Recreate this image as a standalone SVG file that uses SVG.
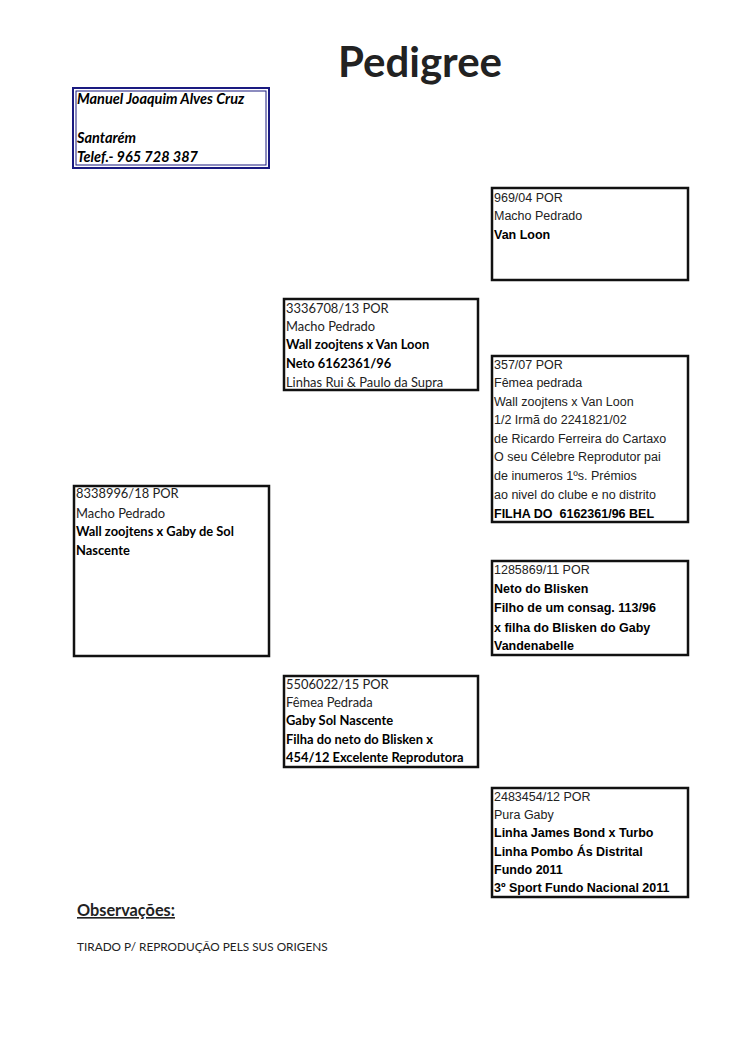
<svg xmlns="http://www.w3.org/2000/svg" width="750" height="1061" viewBox="0 0 750 1061">
<style>
.box{fill:#fff;stroke:#111;stroke-width:2.5}
.c{font-family:Lato,"Open Sans",sans-serif;font-size:12.9px;fill:#222}
.a{font-family:"Liberation Sans",Arial,sans-serif;font-size:12.5px;fill:#222}
.b{font-weight:bold;fill:#000}
.own{font-family:Lato,"Open Sans",sans-serif;font-size:14.5px;font-weight:bold;font-style:italic;fill:#000}
</style>
<rect width="750" height="1061" fill="#fff"/>
<text x="420" y="77" text-anchor="middle" font-family="Lato,'Open Sans',sans-serif" font-size="42" font-weight="bold" fill="#222">Pedigree</text>
<g id="owner">
<rect x="73" y="88" width="196" height="80" fill="#fff" stroke="#1a1a80" stroke-width="2"/>
<rect x="76" y="91" width="190" height="74" fill="none" stroke="#1a1a80" stroke-width="1"/>
<text class="own" x="77" y="104">Manuel Joaquim Alves Cruz</text>
<text class="own" x="77" y="143">Santarém</text>
<text class="own" x="77" y="162">Telef.- 965 728 387</text>
</g>
<g id="n969">
<rect class="box" x="492" y="188" width="196" height="92"/>
<text class="a" x="494" y="202">969/04 POR</text>
<text class="a" x="494" y="220">Macho Pedrado</text>
<text class="a b" x="494" y="239">Van Loon</text>
</g>
<g id="n3336708">
<rect class="box" x="284" y="299" width="194" height="91"/>
<text class="c" x="286" y="313">3336708/13 POR</text>
<text class="c" x="286" y="331">Macho Pedrado</text>
<text class="c b" x="286" y="349">Wall zoojtens x Van Loon</text>
<text class="c b" x="286" y="368">Neto 6162361/96</text>
<text class="c" x="286" y="387">Linhas Rui &amp; Paulo da Supra</text>
</g>
<g id="n357">
<rect class="box" x="492" y="356" width="196" height="166"/>
<text class="a" x="494" y="369">357/07 POR</text>
<text class="a" x="494" y="387">Fêmea pedrada</text>
<text class="a" x="494" y="406">Wall zoojtens x Van Loon</text>
<text class="a" x="494" y="424">1/2 Irmã do 2241821/02</text>
<text class="a" x="494" y="443">de Ricardo Ferreira do Cartaxo</text>
<text class="a" x="494" y="461">O seu Célebre Reprodutor pai</text>
<text class="a" x="494" y="480">de inumeros 1ºs. Prémios</text>
<text class="a" x="494" y="499">ao nivel do clube e no distrito</text>
<text class="a b" x="494" y="518" xml:space="preserve">FILHA DO  6162361/96 BEL</text>
</g>
<g id="n8338996">
<rect class="box" x="74" y="486" width="195" height="170"/>
<text class="c" x="76" y="498">8338996/18 POR</text>
<text class="c" x="76" y="518">Macho Pedrado</text>
<text class="c b" x="76" y="536">Wall zoojtens x Gaby de Sol</text>
<text class="c b" x="76" y="555">Nascente</text>
</g>
<g id="n1285869">
<rect class="box" x="492" y="561" width="196" height="94"/>
<text class="a" x="494" y="574">1285869/11 POR</text>
<text class="a b" x="494" y="593">Neto do Blisken</text>
<text class="a b" x="494" y="612">Filho de um consag. 113/96</text>
<text class="a b" x="494" y="632">x filha do Blisken do Gaby</text>
<text class="a b" x="494" y="650">Vandenabelle</text>
</g>
<g id="n5506022">
<rect class="box" x="284" y="676" width="194" height="91"/>
<text class="c" x="286" y="689">5506022/15 POR</text>
<text class="c" x="286" y="707">Fêmea Pedrada</text>
<text class="c b" x="286" y="725">Gaby Sol Nascente</text>
<text class="c b" x="286" y="744">Filha do neto do Blisken x</text>
<text class="c b" x="286" y="762">454/12 Excelente Reprodutora</text>
</g>
<g id="n2483454">
<rect class="box" x="492" y="788" width="196" height="109"/>
<text class="a" x="494" y="801">2483454/12 POR</text>
<text class="a" x="494" y="819">Pura Gaby</text>
<text class="a b" x="494" y="837">Linha James Bond x Turbo</text>
<text class="a b" x="494" y="856">Linha Pombo Ás Distrital</text>
<text class="a b" x="494" y="874">Fundo 2011</text>
<text class="a b" x="494" y="892">3º Sport Fundo Nacional 2011</text>
</g>
<g id="connectors"></g>
<text x="77" y="916" font-family="Lato,'Open Sans',sans-serif" font-size="16.3" font-weight="bold" fill="#222" text-decoration="underline">Observações:</text>
<text x="77" y="951" font-family="Lato,'Open Sans',sans-serif" font-size="11.8" fill="#222">TIRADO P/ REPRODUÇÃO PELS SUS ORIGENS</text>
</svg>
